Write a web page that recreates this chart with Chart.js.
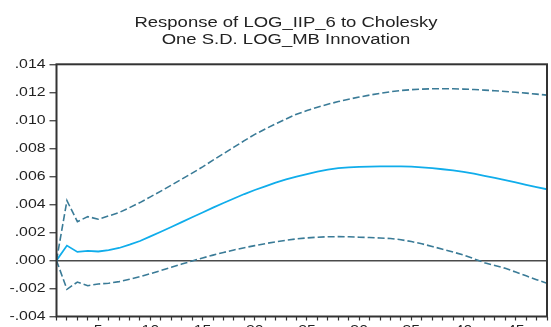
<!DOCTYPE html>
<html>
<head>
<meta charset="utf-8">
<script src="https://cdn.jsdelivr.net/npm/chart.js@4.4.1/dist/chart.umd.min.js"></script>
<style>
  html, body { margin: 0; padding: 0; background: #fff; overflow: hidden; }
  canvas { display: block; }
</style>
</head>
<body>
<canvas id="irf" width="551" height="345"></canvas>
<script>
// Impulse response horizon (periods 1..48)
const periods = Array.from({ length: 48 }, (_, i) => i + 1);

// Response of LOG_IIP_6 to a one S.D. LOG_MB shock
const response = [
  0, 0.00106, 0.00061, 0.00068, 0.00064, 0.00073, 0.00089, 0.00113, 0.00139, 0.00172,
  0.00205, 0.00239, 0.00274, 0.00308, 0.00342, 0.00377, 0.00410, 0.00442, 0.00474, 0.00503,
  0.00529, 0.00555, 0.00578, 0.00599, 0.00617, 0.00634, 0.00648, 0.00659, 0.00665, 0.00668,
  0.00670, 0.00671, 0.00672, 0.00671, 0.00669, 0.00665, 0.00659, 0.00651, 0.00643, 0.00633,
  0.00619, 0.00604, 0.00589, 0.00573, 0.00557, 0.00540, 0.00524, 0.00508
];

// Upper band (+2 S.E.)
const upperBand = [
  0, 0.00427, 0.00277, 0.00313, 0.00294, 0.00318, 0.00342, 0.00377, 0.00413, 0.00454,
  0.00495, 0.00537, 0.00580, 0.00623, 0.00668, 0.00716, 0.00762, 0.00809, 0.00855, 0.00900,
  0.00938, 0.00975, 0.01010, 0.01044, 0.01070, 0.01094, 0.01115, 0.01134, 0.01151, 0.01166,
  0.01180, 0.01193, 0.01204, 0.01213, 0.01219, 0.01223, 0.01225, 0.01225, 0.01225, 0.01223,
  0.01220, 0.01216, 0.01211, 0.01206, 0.01200, 0.01194, 0.01187, 0.01180
];

// Lower band (-2 S.E.)
const lowerBand = [
  0, -0.00206, -0.00154, -0.00180, -0.00168, -0.00163, -0.00151, -0.00134, -0.00116, -0.00094,
  -0.00072, -0.00049, -0.00026, -0.00004, 0.00018, 0.00038, 0.00057, 0.00075, 0.00091, 0.00106,
  0.00120, 0.00133, 0.00144, 0.00154, 0.00161, 0.00166, 0.00169, 0.00170, 0.00169, 0.00166,
  0.00164, 0.00160, 0.00157, 0.00148, 0.00135, 0.00119, 0.00100, 0.00080, 0.00060, 0.00039,
  0.00012, -0.00016, -0.00036, -0.00056, -0.00083, -0.00110, -0.00137, -0.00163
];

const titleLines = ['Response of LOG_IIP_6 to Cholesky', 'One S.D. LOG_MB Innovation'];
const yMin = -0.004, yMax = 0.014, yStep = 0.002;
const xLabelEvery = 5;

const FONT = '"Liberation Sans", Arial, Helvetica, sans-serif';
const TEXT = '#222';
const FRAME = '#333';
const BAND = '#3a7b97';
const MAIN = '#10adeb';
const WIDE = 1.32;          // horizontal widening applied to all lettering

const toPoints = vals => vals.map((v, i) => ({ x: periods[i], y: v }));
const fmtY = v => v.toFixed(3).replace('0.', '.');
const fmtX = v => (v % xLabelEvery === 0 ? String(v) : '');

// Draw a string with widened glyphs
function wideText(ctx, str, x, y) {
  ctx.save();
  ctx.translate(x, y);
  ctx.scale(WIDE, 1);
  ctx.fillText(str, 0, 0);
  ctx.restore();
}

// Box around the plotting area
const frameBox = {
  id: 'frameBox',
  afterDatasetsDraw(chart) {
    const { ctx, chartArea: a } = chart;
    ctx.save();
    ctx.strokeStyle = FRAME;
    ctx.lineWidth = 2;
    ctx.strokeRect(a.left, a.top, a.right - a.left, a.bottom - a.top);
    ctx.restore();
  }
};

// Heading and axis numbers in widened lettering
const lettering = {
  id: 'lettering',
  afterDraw(chart) {
    const { ctx, scales } = chart;
    ctx.save();
    ctx.fillStyle = TEXT;

    ctx.font = '14px ' + FONT;
    ctx.textAlign = 'center';
    ctx.textBaseline = 'alphabetic';
    wideText(ctx, titleLines[0], 286, 27);
    wideText(ctx, titleLines[1], 286, 43.5);

    ctx.font = '12px ' + FONT;
    ctx.textAlign = 'right';
    ctx.textBaseline = 'middle';
    const ys = scales.y;
    ys.ticks.forEach(t => wideText(ctx, fmtY(t.value), ys.right - 11, ys.getPixelForValue(t.value)));

    ctx.textAlign = 'center';
    ctx.textBaseline = 'top';
    const xs = scales.x;
    xs.ticks.forEach(t => {
      const s = fmtX(t.value);
      if (s) wideText(ctx, s, xs.getPixelForValue(t.value), xs.top + 8.5);
    });
    ctx.restore();
  }
};

new Chart(document.getElementById('irf'), {
  type: 'line',
  data: {
    datasets: [
      { data: toPoints(upperBand), borderColor: BAND, borderWidth: 1.6, borderDash: [7, 3] },
      { data: toPoints(response), borderColor: MAIN, borderWidth: 1.8 },
      { data: toPoints(lowerBand), borderColor: BAND, borderWidth: 1.6, borderDash: [7, 3] }
    ]
  },
  options: {
    responsive: false,
    animation: false,
    devicePixelRatio: 1,
    layout: { padding: { left: 0, right: 4, top: 64.3, bottom: 0 } },
    elements: { point: { radius: 0 }, line: { tension: 0, fill: false } },
    plugins: {
      legend: { display: false },
      tooltip: { enabled: false },
      title: { display: false }
    },
    scales: {
      x: {
        type: 'linear',
        min: 1,
        max: 48,
        border: { display: false },
        grid: { drawOnChartArea: false, drawTicks: true, tickLength: 4, tickColor: FRAME, tickWidth: 1.2 },
        ticks: { stepSize: 1, autoSkip: false, maxRotation: 0, display: false, callback: fmtX },
        afterFit: s => { s.height = 345 - 316.5; }
      },
      y: {
        min: yMin,
        max: yMax,
        border: { display: false },
        grid: {
          drawTicks: true,
          tickLength: 7,
          tickColor: FRAME,
          tickWidth: 1.2,
          lineWidth: 1.5,
          color: c => (c.tick && Math.abs(c.tick.value) < 1e-9 ? '#4a4a4a' : 'rgba(0,0,0,0)')
        },
        ticks: { stepSize: yStep, display: false, callback: fmtY },
        afterFit: s => { s.width = 56.5; }
      }
    }
  },
  plugins: [frameBox, lettering]
});
</script>
</body>
</html>
